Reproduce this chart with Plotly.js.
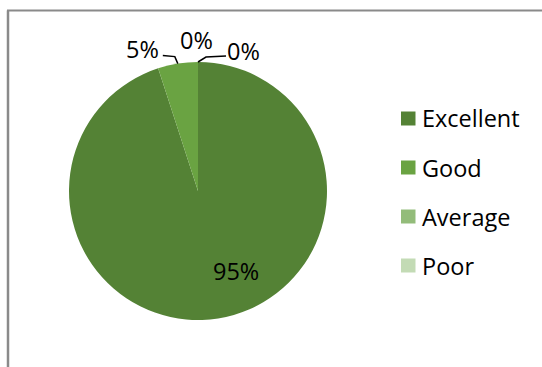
<!DOCTYPE html>
<html><head><meta charset="utf-8">
<script src="https://cdn.plot.ly/plotly-3.0.1.min.js"></script>
<style>html,body{margin:0;padding:0;background:#fff}#chart{width:542px;height:367px}</style>
</head><body><div id="chart"></div>
<script>
const categories = ['Excellent', 'Good', 'Average', 'Poor'];
const values = [95, 5, 0, 0];
const colors = ['#548235', '#6AA342', '#93BC7A', '#C3DBB5'];

const W = 542, H = 367;
const px = x => x / W, py = y => 1 - y / H;
const cx = 198, cy = 191, R = 129;
const FONT = '"Open Sans", Lato, sans-serif';
const FS = 23.5;
const total = values.reduce((a, b) => a + b, 0);
const pct = v => Math.round(v / total * 100) + '%';

// slice mid angles (clockwise from 12 o'clock)
let cum = 0;
const mids = values.map(v => { const m = (cum + v / 2) / total * 2 * Math.PI; cum += v; return m; });
const edge = i => [cx + R * Math.sin(mids[i]), cy - R * Math.cos(mids[i])];

// label placements (pixel offsets relative to slice edge point)
const labelOffsets = [null, [-35, -15], [-1, -22], [46, -11]];
const leaderPaths = [null,
  e => [[e[0], e[1]], [e[0] - 3, e[1] - 7], [e[0] - 15, e[1] - 8]],
  null,
  e => [[e[0], e[1]], [e[0] + 8, e[1] - 5], [e[0] + 28, e[1] - 6]]];

const annotations = [];
const shapes = [];
const txt = (x, y, t, xa) => ({x: px(x), y: py(y), xref: 'paper', yref: 'paper', text: t,
  xanchor: xa || 'center', yanchor: 'middle', showarrow: false, font: {family: FONT, size: FS, color: '#000'}});
// inside label for the big slice
annotations.push(txt(236, 271, pct(values[0])));
for (let i = 1; i < values.length; i++) {
  const e = edge(i);
  const o = labelOffsets[i];
  annotations.push(txt(e[0] + o[0], e[1] + o[1], pct(values[i])));
  if (leaderPaths[i]) {
    const pts = leaderPaths[i](e);
    const d = pts.map((p, k) => (k ? 'L' : 'M') + px(p[0]) + ',' + py(p[1])).join(' ');
    shapes.push({type: 'path', xref: 'paper', yref: 'paper', path: d, line: {color: '#000', width: 1.5}});
  }
}
// custom legend
const legY0 = 118.5, legStep = 49;
categories.forEach((c, i) => {
  const y = legY0 + i * legStep;
  shapes.push({type: 'rect', xref: 'paper', yref: 'paper', x0: px(401), x1: px(415.5), y0: py(y - 7), y1: py(y + 7),
    fillcolor: colors[i], line: {width: 0}});
  annotations.push(txt(420, y, c, 'left'));
});
// chart frame
shapes.push({type: 'line', xref: 'paper', yref: 'paper', x0: px(8), x1: px(8), y0: py(10.5), y1: py(380), line: {color: '#8a8a8a', width: 2.5}});
shapes.push({type: 'line', xref: 'paper', yref: 'paper', x0: px(7), x1: px(560), y0: py(10.5), y1: py(10.5), line: {color: '#8a8a8a', width: 2}});

const trace = {
  type: 'pie', labels: categories, values: values, sort: false, direction: 'clockwise', rotation: 0,
  marker: {colors: colors, line: {width: 0}}, textinfo: 'none', hoverinfo: 'label+percent',
  domain: {x: [px(69), px(327)], y: [py(320), py(62)]}, showlegend: false
};
Plotly.newPlot('chart', [trace], {
  width: W, height: H, margin: {l: 0, r: 0, t: 0, b: 0},
  paper_bgcolor: '#fff', showlegend: false, annotations: annotations, shapes: shapes,
  font: {family: FONT}
}, {staticPlot: true});
</script></body></html>
